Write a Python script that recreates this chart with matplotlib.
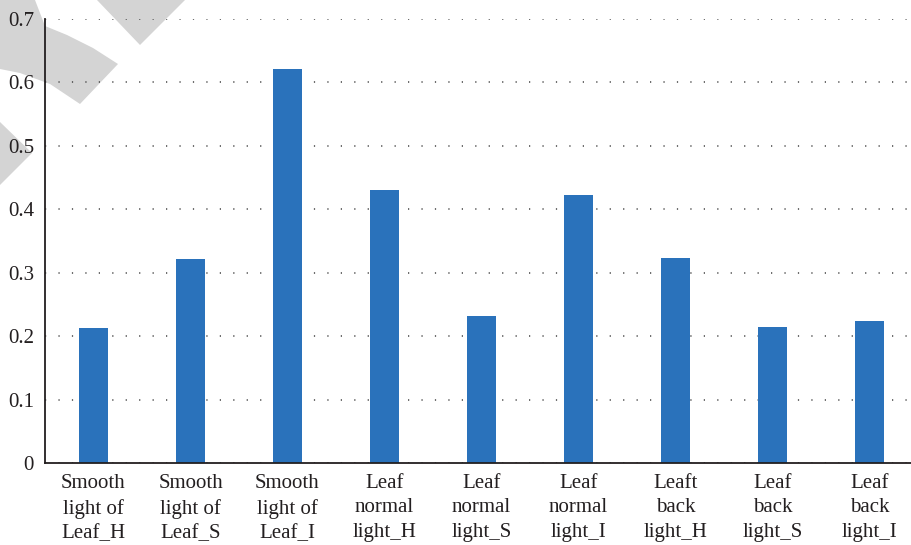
import numpy as np
import matplotlib.pyplot as plt
from matplotlib.patches import Polygon

categories = ['Smooth\nlight of\nLeaf_H', 'Smooth\nlight of\nLeaf_S', 'Smooth\nlight of\nLeaf_I',
              'Leaf\nnormal\nlight_H', 'Leaf\nnormal\nlight_S', 'Leaf\nnormal\nlight_I',
              'Leaft\nback\nlight_H', 'Leaf\nback\nlight_S', 'Leaf\nback\nlight_I']
values = [0.213, 0.322, 0.621, 0.430, 0.232, 0.4225, 0.323, 0.214, 0.224]
yticks = [0, 0.1, 0.2, 0.3, 0.4, 0.5, 0.6, 0.7]
ytick_labels = ['0', '0.1', '0.2', '0.3', '0.4', '0.5', '0.6', '0.7']

W, H = 911, 545
plt.rcParams['font.family'] = ['Liberation Serif', 'DejaVu Serif']
fig = plt.figure(figsize=(W / 100, H / 100), dpi=100)

# faint watermark shapes in the corner (pixel coords)
def px(pts):
    return [(x / W, 1 - y / H) for x, y in pts]

for shape in [
    [(0, 0), (35, 0), (45, 26), (67, 35), (93, 48), (118, 64), (80, 104),
     (50, 84), (20, 73), (0, 69)],
    [(97, 0), (185, 0), (140, 45)],
    [(0, 122), (32, 153), (0, 185)],
]:
    fig.add_artist(Polygon(px(shape), closed=True, transform=fig.transFigure,
                           facecolor='#d4d4d4', edgecolor='none', zorder=-1))

ax = fig.add_axes([45 / W, 1 - 463 / H, 873 / W, 444 / H])
ax.patch.set_alpha(0)

x = np.arange(len(categories))
ax.bar(x, values, width=0.3, color='#2a72bb', zorder=2)

ax.set_xlim(-0.5, len(categories) - 0.5)
ax.set_ylim(0, 0.7)
ax.set_yticks(yticks)
ax.set_yticklabels(ytick_labels)
ax.set_xticks(x)
ax.set_xticklabels(categories, linespacing=1.38)

ax.yaxis.grid(True, linestyle=(0, (0.8, 8)), color='#444444', linewidth=1.1)
ax.set_axisbelow(True)

for s in ['top', 'right']:
    ax.spines[s].set_visible(False)
for s in ['left', 'bottom']:
    ax.spines[s].set_color('#231f20')
    ax.spines[s].set_linewidth(1.3)

ax.tick_params(axis='both', length=0, labelsize=15, labelcolor='#231f20')
ax.tick_params(axis='y', pad=8)
ax.tick_params(axis='x', pad=8)

fig.savefig('out.png', dpi=100)
